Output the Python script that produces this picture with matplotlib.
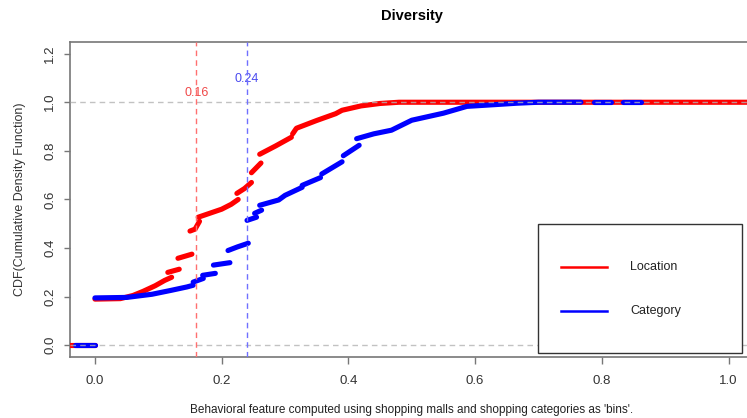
import matplotlib.pyplot as plt
from matplotlib.patches import Rectangle

plt.rcParams['font.family'] = ['Liberation Sans', 'DejaVu Sans']

# empirical CDF of each feature, stored as runs of (x, y) between jumps
location_runs = [
    [(-0.04, 0.0), (0.0, 0.0)],
    [(0.0, 0.19), (0.04, 0.192), (0.06, 0.205), (0.076, 0.222), (0.095, 0.245), (0.11, 0.267), (0.121, 0.28)],
    [(0.115, 0.30), (0.133, 0.313)],
    [(0.131, 0.358), (0.153, 0.375)],
    [(0.15, 0.47), (0.158, 0.478), (0.165, 0.51)],
    [(0.163, 0.527), (0.2, 0.56), (0.215, 0.58), (0.226, 0.60)],
    [(0.224, 0.625), (0.236, 0.645), (0.247, 0.67)],
    [(0.247, 0.71), (0.262, 0.75)],
    [(0.26, 0.786), (0.285, 0.82), (0.31, 0.856)],
    [(0.312, 0.87), (0.318, 0.893), (0.35, 0.925), (0.38, 0.953), (0.39, 0.967),
     (0.42, 0.985), (0.45, 0.995), (0.48, 1.0), (1.05, 1.0)],
]
category_runs = [
    [(-0.031, 0.0), (0.0, 0.0)],
    [(0.0, 0.195), (0.05, 0.197), (0.09, 0.21), (0.12, 0.226), (0.145, 0.24), (0.155, 0.247)],
    [(0.155, 0.26), (0.171, 0.275)],
    [(0.17, 0.288), (0.19, 0.296)],
    [(0.187, 0.33), (0.213, 0.34)],
    [(0.21, 0.39), (0.225, 0.405), (0.242, 0.42)],
    [(0.24, 0.514), (0.255, 0.527)],
    [(0.252, 0.543), (0.263, 0.556)],
    [(0.26, 0.576), (0.29, 0.598), (0.3, 0.617), (0.327, 0.65)],
    [(0.327, 0.658), (0.356, 0.69)],
    [(0.358, 0.705), (0.39, 0.755)],
    [(0.392, 0.78), (0.417, 0.823)],
    [(0.413, 0.85), (0.44, 0.87), (0.468, 0.885), (0.5, 0.926), (0.55, 0.955),
     (0.587, 0.983), (0.63, 0.99), (0.666, 0.996), (0.7, 1.0), (0.767, 1.0)],
    [(0.787, 1.0), (0.815, 1.0)],
    [(0.834, 1.0), (0.862, 1.0)],
]

series_names = ['Location', 'Category']
series_colors = ['red', 'blue']
series_runs = [location_runs, category_runs]

# chosen cut-off for each feature
cut_values = [0.16, 0.24]
cut_label_y = [1.04, 1.095]
cut_line_colors = ['#ff7070', '#7070ff']
cut_text_colors = ['#f04848', '#4848f0']

x_ticks = [0.0, 0.2, 0.4, 0.6, 0.8, 1.0]
y_ticks = [0.0, 0.2, 0.4, 0.6, 0.8, 1.0, 1.2]

fig = plt.figure(figsize=(7.47, 4.18), dpi=100)
ax = fig.add_axes([0.0932, 0.146, 0.916, 0.7536])

for runs, color in zip(series_runs, series_colors):
    for run in runs:
        xs = [p[0] for p in run]
        ys = [p[1] for p in run]
        ax.plot(xs, ys, color=color, lw=3.7, solid_capstyle='round', zorder=3)

for h in (0.0, 1.0):
    ax.axhline(h, color='#b3b3b3', lw=1.0, ls=(0, (4, 3)), alpha=0.8, zorder=4)

for v, ty, lc, tc in zip(cut_values, cut_label_y, cut_line_colors, cut_text_colors):
    ax.axvline(v, color=lc, lw=1.0, ls=(0, (4, 3)), zorder=5)
    ax.text(v, ty, f'{v:.2f}', color=tc, fontsize=9, ha='center', va='center')

ax.set_xlim(-0.04, 1.04)
ax.set_ylim(-0.048, 1.248)
ax.set_xticks(x_ticks)
ax.set_xticklabels([f'{t:.1f}' for t in x_ticks])
ax.set_yticks(y_ticks)
ax.set_yticklabels([f'{t:.1f}' for t in y_ticks], rotation=90, va='center')
ax.tick_params(axis='x', length=5, width=1.0, color='#777777', labelcolor='#333333',
               labelsize=9.5, pad=8)
ax.tick_params(axis='y', length=4.5, width=1.0, color='#777777', labelcolor='#333333',
               labelsize=9.5, pad=5)
for side in ax.spines.values():
    side.set_color('#777777')
    side.set_linewidth(1.2)

ax.set_title('Diversity', fontsize=10.5, fontweight='bold', pad=16)
ax.set_xlabel("Behavioral feature computed using shopping malls and shopping categories as 'bins'.",
              fontsize=8.5, color='#222222', labelpad=12)
ax.set_ylabel('CDF(Cumulative Density Function)', fontsize=9, color='#333333', labelpad=13)

# legend box drawn by hand
ax.add_patch(Rectangle((0.684, 0.014), 0.298, 0.409, transform=ax.transAxes,
                       facecolor='white', edgecolor='#333333', lw=1.0, zorder=6))
for ly, name, color in zip([0.286, 0.147], series_names, series_colors):
    ax.plot([0.718, 0.785], [ly, ly], color=color, lw=1.8, transform=ax.transAxes, zorder=7)
    ax.text(0.819, ly, name, fontsize=9, color='#222222', va='center',
            transform=ax.transAxes, zorder=7)

fig.savefig('out.png', dpi=100)
